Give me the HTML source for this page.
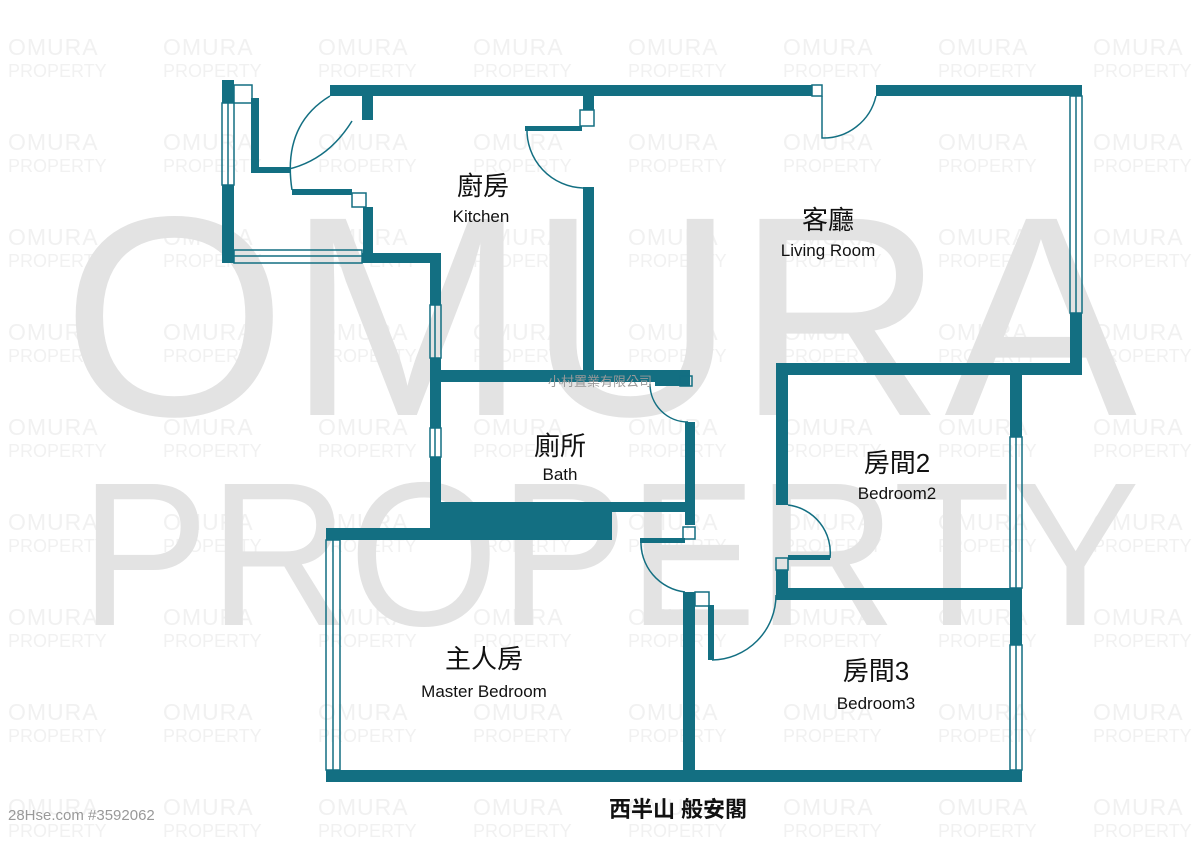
<!DOCTYPE html>
<html><head><meta charset="utf-8"><style>
html,body{margin:0;padding:0;background:#fff;}
svg{display:block}
</style></head><body>
<svg width="1200" height="848" viewBox="0 0 1200 848" xmlns="http://www.w3.org/2000/svg" font-family="Liberation Sans, Noto Sans CJK TC, sans-serif">
<defs>
<pattern id="wm" x="8" y="29" width="155" height="95" patternUnits="userSpaceOnUse">
<text x="0" y="26" font-size="23" fill="#f1f1f1" letter-spacing="1">OMURA</text>
<text x="0" y="48" font-size="18" fill="#f1f1f1">PROPERTY</text>
</pattern>
</defs>
<rect width="1200" height="848" fill="url(#wm)"/>
<text x="62" y="415" font-size="285" fill="#e3e3e3" textLength="1075" lengthAdjust="spacingAndGlyphs">OMURA</text>
<text x="80" y="625" font-size="205" fill="#e3e3e3" textLength="1060" lengthAdjust="spacingAndGlyphs">PROPERTY</text>

<g fill="#136f82">
<rect x="330" y="85" width="482" height="11"/>
<rect x="876" y="85" width="206" height="11"/>
<rect x="222" y="80" width="12" height="23"/>
<rect x="222" y="185" width="12" height="78"/>
<rect x="251" y="98" width="8" height="75"/>
<rect x="251" y="167" width="40" height="6"/>
<rect x="292" y="189" width="60" height="6"/>
<rect x="363" y="207" width="10" height="56"/>
<rect x="362" y="253" width="79" height="10"/>
<rect x="362" y="96" width="11" height="24"/>
<rect x="430" y="253" width="11" height="52"/>
<rect x="430" y="358" width="11" height="70"/>
<rect x="430" y="457" width="11" height="83"/>
<rect x="583" y="96" width="11" height="14"/>
<rect x="525" y="126" width="57" height="5"/>
<rect x="583" y="187" width="11" height="195"/>
<rect x="441" y="370" width="249" height="12"/>
<rect x="655" y="382" width="35" height="4"/>
<rect x="685" y="422" width="10" height="103"/>
<rect x="441" y="502" width="249" height="10"/>
<rect x="441" y="502" width="171" height="38"/>
<rect x="326" y="528" width="286" height="12"/>
<rect x="640" y="538" width="45" height="5"/>
<rect x="683" y="592" width="12" height="190"/>
<rect x="708" y="605" width="6" height="55"/>
<rect x="776" y="363" width="306" height="12"/>
<rect x="1070" y="313" width="12" height="62"/>
<rect x="776" y="363" width="12" height="142"/>
<rect x="776" y="570" width="12" height="30"/>
<rect x="788" y="555" width="42" height="5"/>
<rect x="776" y="588" width="246" height="12"/>
<rect x="1010" y="375" width="12" height="62"/>
<rect x="1010" y="588" width="12" height="57"/>
<rect x="326" y="770" width="696" height="12"/>
</g>
<g fill="none" stroke="#136f82" stroke-width="1.5">
<rect x="222" y="103" width="12" height="82"/><line x1="228" y1="103" x2="228" y2="185"/>
<rect x="234" y="250" width="128" height="13"/><line x1="234" y1="256" x2="362" y2="256"/>
<rect x="430" y="305" width="11" height="53"/><line x1="435" y1="305" x2="435" y2="358"/>
<rect x="430" y="428" width="11" height="29"/><line x1="435" y1="428" x2="435" y2="457"/>
<rect x="1070" y="96" width="12" height="217"/><line x1="1076" y1="96" x2="1076" y2="313"/>
<rect x="1010" y="437" width="12" height="151"/><line x1="1016" y1="437" x2="1016" y2="588"/>
<rect x="1010" y="645" width="12" height="125"/><line x1="1016" y1="645" x2="1016" y2="770"/>
<rect x="326" y="540" width="14" height="230"/><line x1="333" y1="540" x2="333" y2="770"/>
<rect x="234" y="85" width="18" height="18"/>
<rect x="352" y="193" width="14" height="14"/>
<rect x="580" y="110" width="14" height="16"/>
<rect x="812" y="85" width="10" height="11"/>
<rect x="680" y="376" width="12" height="10"/>
<rect x="683" y="527" width="12" height="12"/>
<rect x="776" y="558" width="12" height="12"/>
<rect x="695" y="592" width="14" height="14"/>
<path d="M252,172 Q318,176 352,121"/>
<path d="M292,190 Q282,125 330,96"/>
<path d="M527,128 A58,58 0 0 0 583,188"/>
<path d="M822,96 L822,138 A54,54 0 0 0 876,96"/>
<path d="M650,384 A38,38 0 0 0 688,422"/>
<path d="M641,540 A50,50 0 0 0 685,592"/>
<path d="M788,505 A48,48 0 0 1 830,558"/>
<path d="M712,660 A65,65 0 0 0 776,595"/>
</g>
<g fill="#111" text-anchor="middle">
<text x="483" y="195" font-size="26">廚房</text>
<text x="481" y="222" font-size="17">Kitchen</text>
<text x="828" y="229" font-size="26">客廳</text>
<text x="828" y="256" font-size="17">Living Room</text>
<text x="560" y="455" font-size="26">廁所</text>
<text x="560" y="480" font-size="17">Bath</text>
<text x="897" y="472" font-size="26">房間2</text>
<text x="897" y="499" font-size="17">Bedroom2</text>
<text x="484" y="668" font-size="26">主人房</text>
<text x="484" y="697" font-size="17">Master Bedroom</text>
<text x="876" y="680" font-size="26">房間3</text>
<text x="876" y="709" font-size="17">Bedroom3</text>
<text x="600" y="386" font-size="13" fill="#999">小村置業有限公司</text>
<text x="678" y="817" font-size="22" font-weight="bold">西半山 般安閣</text>
</g>
<text x="8" y="820" font-size="15" fill="#999">28Hse.com #3592062</text>
</svg>
</body></html>
